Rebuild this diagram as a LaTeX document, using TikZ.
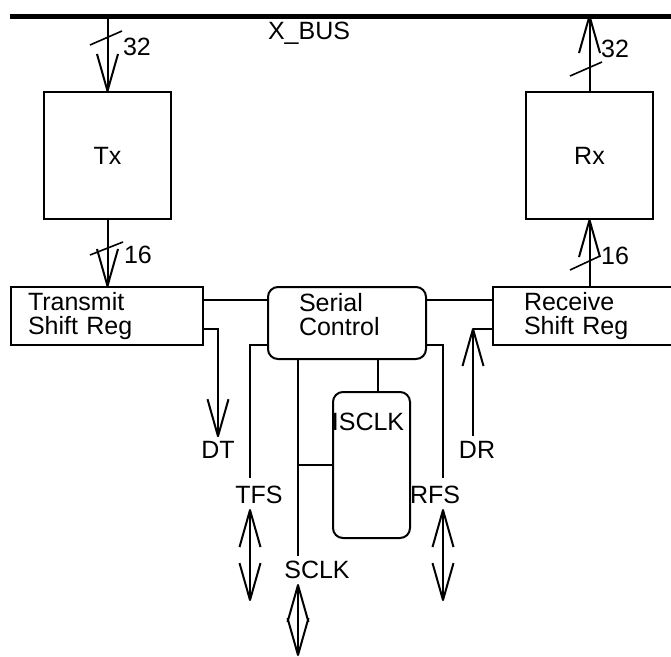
\documentclass[tikz,border=0pt]{standalone}
\usepackage{fontspec}
\setmainfont{Liberation Sans}
\usetikzlibrary{arrows.meta, positioning, calc}
\newcommand{\pinfont}{\fontsize{25}{24}\selectfont}
% plain open V head, long and narrow
\pgfdeclarearrow{
  name = OpenV,
  parameters = {\the\pgfarrowlength,\the\pgfarrowwidth},
  setup code = {
    \pgfarrowssettipend{0pt}
    \pgfarrowssetlineend{-1pt}
    \pgfarrowssetbackend{-\pgfarrowlength}
    \pgfarrowssetvisualbackend{-\pgfarrowlength}
    \pgfarrowshullpoint{0pt}{0pt}
    \pgfarrowshullpoint{-\pgfarrowlength}{.5\pgfarrowwidth}
    \pgfarrowshullpoint{-\pgfarrowlength}{-.5\pgfarrowwidth}
    \pgfarrowssavethe\pgfarrowlength
    \pgfarrowssavethe\pgfarrowwidth
  },
  drawing code = {
    \pgfsetdash{}{0pt}
    \pgfsetroundjoin
    \pgfsetbuttcap
    \pgfpathmoveto{\pgfqpoint{-\pgfarrowlength}{.5\pgfarrowwidth}}
    \pgfpathlineto{\pgfqpoint{0pt}{0pt}}
    \pgfpathlineto{\pgfqpoint{-\pgfarrowlength}{-.5\pgfarrowwidth}}
    \pgfusepathqstroke
  },
  defaults = {length = 37pt, width = 21pt}
}
\tikzset{
  regbox/.style={rectangle, draw, line width=2pt, align=left, anchor=north west,
                 font=\pinfont, inner ysep=0pt},
  ctlbox/.style={regbox, rounded corners=10pt},
  pinlabel/.style={inner sep=0pt, font=\pinfont},
  wire/.style={line width=2pt},
  busline/.style={line width=5pt},
  tick/.style={line width=1.6pt},
  arrowV/.style={wire, -{OpenV}},
  arrowVV/.style={wire, {OpenV}-{OpenV}},
}
\begin{document}
\begin{tikzpicture}[x=1pt, y=-1pt, font=\pinfont]
  \useasboundingbox (0,0) rectangle (671,656);
  % bus
  \coordinate (busL) at (10,16);
  \coordinate (busR) at (671,16);
  \draw[busline] (busL) -- (busR);
  \node[pinlabel] (xbus) at (309,33) {X\_BUS};

  % fifo registers
  \node[regbox, align=center, minimum width=127pt, minimum height=127pt] (tx) at (43,91) {Tx};
  \node[regbox, align=center, minimum width=127pt, minimum height=127pt] (rx) at (525,91) {Rx};

  % shift registers and control
  \node[regbox, text width=158pt, inner xsep=17pt, minimum height=58pt] (tsr) at (10,286) {Transmit\\Shift Reg};
  \node[ctlbox, text width=96pt, inner xsep=31pt, minimum height=72pt, text depth=41pt] (sc) at (267,286) {Serial\\Control};
  \node[regbox, text width=128pt, inner xsep=31pt, minimum height=58pt] (rsr) at (492,286) {Receive\\Shift Reg};
  \node[ctlbox, minimum width=77pt, minimum height=146pt] (isclk) at (332,391) {};
  \node[pinlabel] (isclkT) at (368,422) {ISCLK};

  % pin labels
  \node[pinlabel] (dt) at (218,450) {DT};
  \node[pinlabel] (dr) at (477,450) {DR};
  \node[pinlabel] (tfs) at (259,495) {TFS};
  \node[pinlabel] (rfs) at (435,495) {RFS};
  \node[pinlabel] (sclk) at (317,570) {SCLK};

  % bus widths
  \node[pinlabel] (w32a) at (137,47) {32};
  \node[pinlabel] (w32b) at (615,49) {32};
  \node[pinlabel] (w16a) at (138,255) {16};
  \node[pinlabel] (w16b) at (615,256) {16};
  \draw[tick] (90,45) -- (122,31);
  \draw[tick] (570,76) -- (602,62);
  \draw[tick] (90,255) -- (123,242);
  \draw[tick] (570,270) -- (600,256);

  % data path
  \draw[arrowV] (tx.north |- busL) -- (tx.north);
  \draw[arrowV] (tx.south) -- (tx.south |- tsr.north);
  \draw[arrowV] (rx.north) -- (rx.north |- busL);
  \draw[arrowV] (rx.south |- rsr.north) -- (rx.south);

  \coordinate (linkY) at (0,300);
  \coordinate (dtY) at (0,329);
  \coordinate (ctlY) at (0,345);
  \coordinate (drX) at (473,0);
  \coordinate (tfsX) at (250,0);
  \coordinate (rfsX) at (443,0);
  \coordinate (sclkX) at (298,0);
  \coordinate (iclkX) at (378,0);

  \draw[wire] (tsr.east |- linkY) -- (sc.west |- linkY);
  \draw[wire] (sc.east |- linkY) -- (rsr.west |- linkY);

  % serial pins
  \draw[arrowV] (tsr.east |- dtY) -| ([yshift=5pt]dt.north);
  \draw[wire] (rsr.west |- dtY) -- (drX |- dtY);
  \draw[arrowV] ([yshift=5pt]dr.north -| drX) -- (drX |- dtY);

  \draw[wire] (sc.west |- ctlY) -| ([yshift=8pt]tfs.north -| tfsX);
  \draw[arrowVV] ([yshift=-6pt]tfs.south -| tfsX) -- ++(0,90);
  \draw[wire] (sc.east |- ctlY) -| ([yshift=8pt]rfs.north -| rfsX);
  \draw[arrowVV] ([yshift=-6pt]rfs.south -| rfsX) -- ++(0,90);

  \draw[wire] (sc.south -| sclkX) -- ([yshift=5pt]sclk.north -| sclkX);
  \draw[arrowVV] ([yshift=-6pt]sclk.south -| sclkX) -- ++(0,70);
  \draw[wire] (sclkX |- isclk.west) -- (isclk.west);
  \draw[wire] (sc.south -| iclkX) -- (isclk.north -| iclkX);
\end{tikzpicture}
\end{document}
